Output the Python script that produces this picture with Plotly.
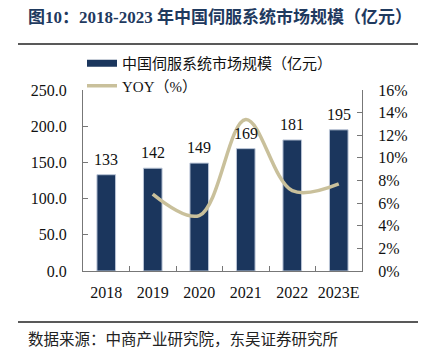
import plotly.graph_objects as go

years = ["2018", "2019", "2020", "2021", "2022", "2023E"]
market_size = [133, 142, 149, 169, 181, 195]
yoy_years = ["2019", "2020", "2021", "2022", "2023E"]
yoy_pct = [6.8, 4.9, 13.4, 7.1, 7.7]
left_ticks = [0, 50, 100, 150, 200, 250]
right_ticks = [0, 2, 4, 6, 8, 10, 12, 14, 16]
right_tick_text = ["0%", "2%", "4%", "6%", "8%", "10%", "12%", "14%", "16%"]

bar_name = "中国伺服系统市场规模（亿元）"
line_name = "YOY（%）"
title_text = "图10：2018-2023 年中国伺服系统市场规模（亿元）"
source_text = "数据来源：中商产业研究院，东吴证券研究所"

NAVY = "#1b365d"
KHAKI = "#c9c09b"
SERIF = "Liberation Serif, Times New Roman, Noto Sans CJK SC, serif"

fig = go.Figure()
fig.add_trace(go.Bar(
    x=years, y=market_size, name=bar_name, showlegend=False,
    marker=dict(color=NAVY, line=dict(color="#b9c4d6", width=1)),
    width=0.4, yaxis="y",
))
# legend swatch for bar series
fig.add_trace(go.Scatter(
    x=[None], y=[None], mode="lines", name=bar_name,
    line=dict(color=NAVY, width=7), yaxis="y",
))
fig.add_trace(go.Scatter(
    x=yoy_years, y=yoy_pct, mode="lines", name=line_name,
    line=dict(color=KHAKI, width=3.5, shape="spline", smoothing=1.0),
    yaxis="y2",
))

# data labels above bars (category index positions on the x axis)
for i, yv in enumerate(market_size):
    fig.add_annotation(x=i, y=yv, xref="x", yref="y", text=str(yv),
                       showarrow=False, yanchor="bottom", yshift=5,
                       font=dict(family=SERIF, size=16, color="#111"))

fig.update_layout(
    width=425, height=352,
    margin=dict(l=83, r=63, t=90, b=81),
    paper_bgcolor="white", plot_bgcolor="white",
    font=dict(family=SERIF, size=15, color="#111"),
    showlegend=True,
    legend=dict(x=0.0, y=1.235, xanchor="left", yanchor="top",
                bgcolor="rgba(0,0,0,0)", font=dict(size=15, family=SERIF),
                tracegroupgap=0, itemwidth=30),
    bargap=0.6,
    xaxis=dict(
        type="category", categoryorder="array", categoryarray=years,
        showline=True, linecolor="#777", linewidth=1,
        ticks="inside", tickson="boundaries", ticklen=5, tickcolor="#777",
        tickfont=dict(family=SERIF, size=16, color="#111"), tickangle=0,
        ticklabelstandoff=7, showgrid=False,
    ),
    yaxis=dict(
        range=[0, 250], tickvals=left_ticks, tickformat=".1f",
        showline=True, linecolor="#777", linewidth=1,
        ticks="inside", ticklen=5, tickcolor="#777",
        tickfont=dict(family=SERIF, size=16, color="#111"),
        ticklabelstandoff=12, showgrid=False, zeroline=False,
    ),
    yaxis2=dict(
        range=[0, 16], tickvals=right_ticks, ticktext=right_tick_text,
        overlaying="y", side="right",
        showline=True, linecolor="#777", linewidth=1,
        ticks="inside", ticklen=5, tickcolor="#777",
        tickfont=dict(family=SERIF, size=16, color="#111"),
        ticklabelstandoff=12, showgrid=False, zeroline=False,
    ),
)

# Title / source placement in pixel terms converted to paper coordinates
plot_l, plot_r, plot_t, plot_b = 83, 362, 90, 271
pw, ph = plot_r - plot_l, plot_b - plot_t
def px_x(x):
    return (x - plot_l) / pw
def px_y(y):
    return (plot_b - y) / ph

fig.add_annotation(text="<b>" + title_text + "</b>", xref="paper", yref="paper",
                   x=px_x(26), y=px_y(17), xanchor="left", yanchor="middle",
                   font=dict(family=SERIF, size=17, color="#1f3a5f"),
                   showarrow=False)
fig.add_annotation(text=source_text, xref="paper", yref="paper",
                   x=px_x(26), y=px_y(338), xanchor="left", yanchor="middle",
                   font=dict(family="Noto Sans CJK SC", size=15.5, color="#222"),
                   showarrow=False)
fig.add_shape(type="line", xref="paper", yref="paper",
              x0=px_x(18), x1=px_x(418), y0=px_y(44), y1=px_y(44),
              line=dict(color="#222", width=1.5))
fig.add_shape(type="line", xref="paper", yref="paper",
              x0=px_x(18), x1=px_x(418), y0=px_y(322), y1=px_y(322),
              line=dict(color="#222", width=1.5))
fig.layout.legend.update(x=px_x(82), y=px_y(47))

fig.write_html("out.html")
